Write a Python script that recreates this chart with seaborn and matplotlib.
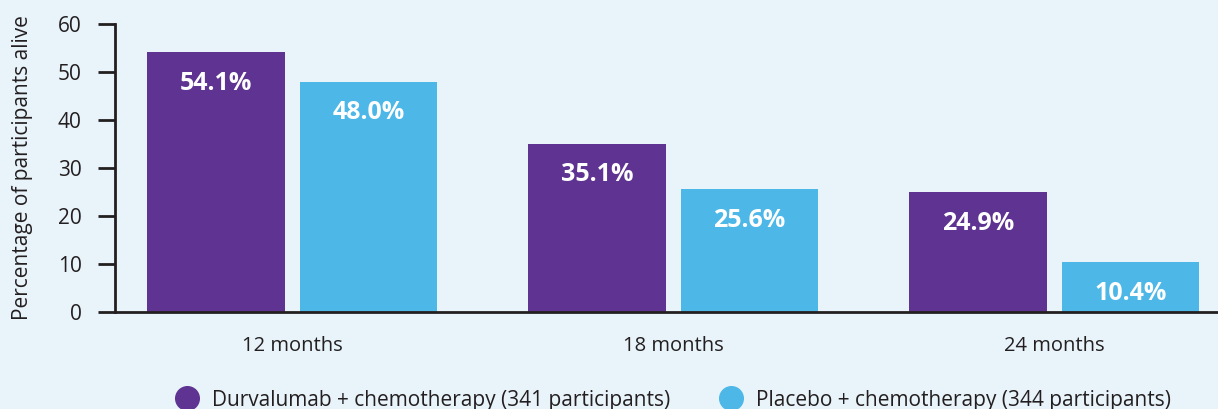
import pandas as pd
import seaborn as sns
import matplotlib.pyplot as plt
from matplotlib.lines import Line2D

# dados
tempos = ["12 months", "18 months", "24 months"]
grupos = ["Durvalumab + chemotherapy (341 participants)",
          "Placebo + chemotherapy (344 participants)"]
durvalumab = [54.1, 35.1, 24.9]
placebo = [48.0, 25.6, 10.4]
yticks = [0, 10, 20, 30, 40, 50, 60]

cores = ["#5E3391", "#4DB8E8"]
fundo = "#E8F3FA"
escuro = "#231F20"

dados = pd.DataFrame({
    "tempo": tempos * 2,
    "grupo": [grupos[0]] * 3 + [grupos[1]] * 3,
    "valor": durvalumab + placebo,
})

sns.set_theme(style="white")
plt.rcParams["font.family"] = ["Open Sans", "DejaVu Sans"]

fig = plt.figure(figsize=(12.18, 4.09), dpi=100, facecolor=fundo)
ax = fig.add_axes([115 / 1218, 97 / 409, 1 - 115 / 1218, 288 / 409])
ax.set_facecolor(fundo)

sns.barplot(data=dados, x="tempo", y="valor", hue="grupo", hue_order=grupos,
            palette=cores, width=0.8, gap=0.1, saturation=1, linewidth=0,
            legend=False, ax=ax)

# rotulos dentro das barras
for cont in ax.containers:
    for p in cont:
        h = p.get_height()
        ax.annotate(f"{h:.1f}%", (p.get_x() + p.get_width() / 2, h),
                    xytext=(0, -13.5), textcoords="offset points",
                    ha="center", va="top", color="white",
                    fontsize=18, fontweight="bold")

ax.set_xlim(-0.465, 2.43)
ax.set_ylim(0, 60)
ax.set_yticks(yticks)
ax.set_yticklabels([str(t) for t in yticks], fontsize=15, color=escuro)
ax.tick_params(axis="y", direction="out", length=12, width=2, color=escuro, pad=12, left=True)
ax.tick_params(axis="x", length=0, pad=17, labelsize=14.5, labelcolor=escuro)
ax.set_xlabel("")
ax.set_ylabel("Percentage of participants alive", fontsize=15, color=escuro, labelpad=18)

for lado in ["top", "right"]:
    ax.spines[lado].set_visible(False)
for lado in ["left", "bottom"]:
    ax.spines[lado].set_color(escuro)
    ax.spines[lado].set_linewidth(2)

handles = [Line2D([], [], marker="o", linestyle="", markersize=17,
                  markerfacecolor=c, markeredgecolor=c) for c in cores]
fig.legend(handles, grupos, loc="center", bbox_to_anchor=(0.549, 0.022),
           ncol=2, frameon=False, fontsize=15, handletextpad=0.2,
           columnspacing=1.9, labelcolor=escuro, borderpad=0)

fig.savefig("out.png", dpi=100, facecolor=fundo)
